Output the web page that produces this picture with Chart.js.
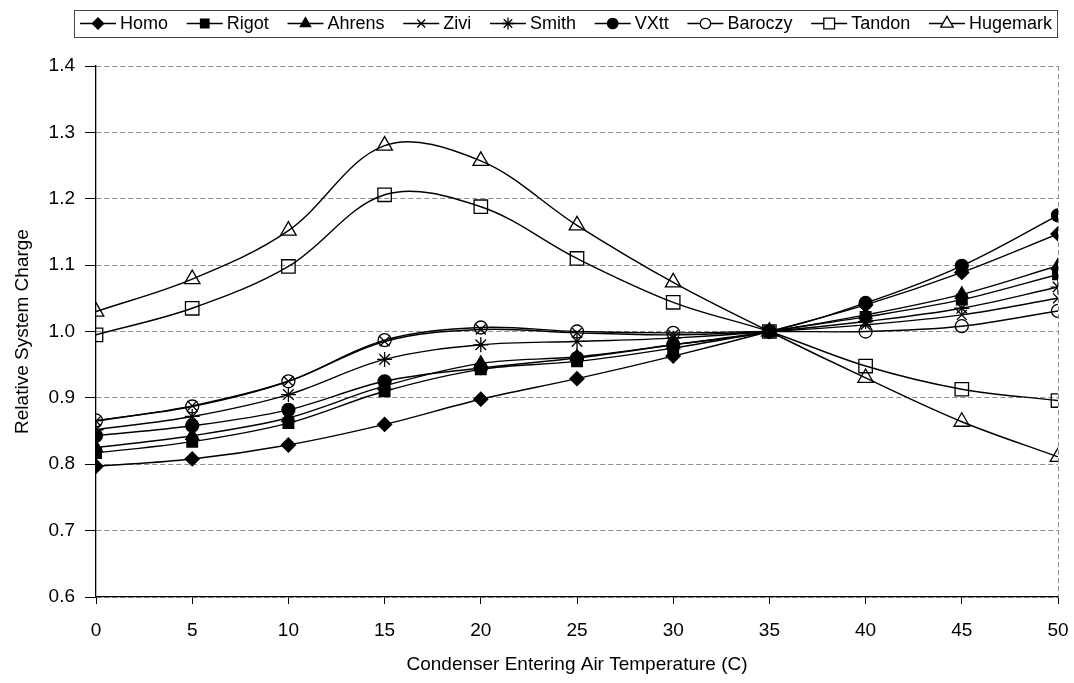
<!DOCTYPE html>
<html>
<head>
<meta charset="utf-8">
<title>Relative System Charge</title>
<style>
  html, body { margin: 0; padding: 0; background: #ffffff; }
  #chart { display: block; }
</style>
<script src="https://cdn.jsdelivr.net/npm/chart.js@4.4.1/dist/chart.umd.min.js"></script>
</head>
<body>
<canvas id="chart" width="1074" height="683"></canvas>
<script>
/*global document, window, Chart*/
/*jslint nomen: true, indent: 2 */
(function (window, document, Chart) {
  "use strict";

  /////////////////////////////////////////////////////////////////
  // data
  /////////////////////////////////////////////////////////////////
  var temperature_list = [0, 5, 10, 15, 20, 25, 30, 35, 40, 45, 50],
    y_tick_list = [0.6, 0.7, 0.8, 0.9, 1.0, 1.1, 1.2, 1.3, 1.4],
    homo_list = [0.797, 0.808, 0.829, 0.860, 0.898, 0.929, 0.963, 1.0, 1.040, 1.089, 1.147],
    rigot_list = [0.817, 0.834, 0.862, 0.910, 0.943, 0.955, 0.975, 1.0, 1.022, 1.048, 1.086],
    ahrens_list = [0.825, 0.843, 0.870, 0.918, 0.952, 0.962, 0.980, 1.0, 1.025, 1.056, 1.099],
    zivi_list = [0.865, 0.888, 0.925, 0.985, 1.003, 0.998, 0.995, 1.0, 1.010, 1.025, 1.050],
    smith_list = [0.852, 0.872, 0.905, 0.958, 0.980, 0.985, 0.990, 1.0, 1.015, 1.035, 1.067],
    vxtt_list = [0.843, 0.858, 0.882, 0.925, 0.945, 0.960, 0.980, 1.0, 1.043, 1.099, 1.175],
    baroczy_list = [0.866, 0.887, 0.925, 0.987, 1.006, 1.0, 0.998, 1.0, 1.0, 1.008, 1.031],
    tandon_list = [0.995, 1.035, 1.098, 1.206, 1.188, 1.110, 1.044, 1.0, 0.948, 0.913, 0.896],
    hugemark_list = [1.030, 1.079, 1.152, 1.280, 1.257, 1.160, 1.074, 1.0, 0.930, 0.864, 0.811],
    series_name_list = ["Homo", "Rigot", "Ahrens", "Zivi", "Smith", "VXtt",
      "Baroczy", "Tandon", "Hugemark"],
    series_value_list = [homo_list, rigot_list, ahrens_list, zivi_list, smith_list,
      vxtt_list, baroczy_list, tandon_list, hugemark_list],

    // marker look, one entry per series
    point_style_list = ["rectRot", "rect", "triangle", "crossRot", "star",
      "circle", "circle", "rect", "triangle"],
    point_radius_list = [7, 7.5, 7.5, 7, 7.5, 6.5, 6.5, 9.5, 9],
    point_filled_list = [true, true, true, true, true, true, false, false, false],

    font_family = "'Liberation Sans', Arial, Helvetica, sans-serif",
    helpers = Chart.helpers,
    dataset_list = [],
    i;

  for (i = 0; i < series_name_list.length; i += 1) {
    dataset_list.push({
      label: series_name_list[i],
      data: temperature_list.map(function (t, j) {
        return {x: t, y: series_value_list[i][j]};
      }),
      borderColor: "#000000",
      borderWidth: 1.4,
      tension: 0.35,
      fill: false,
      pointStyle: point_style_list[i],
      pointRadius: point_radius_list[i],
      pointBorderWidth: 1.3,
      pointBorderColor: "#000000",
      pointBackgroundColor: point_filled_list[i] ? "#000000" : "rgba(0,0,0,0)",
      // excel paints the last series on top
      order: series_name_list.length - i
    });
  }

  // dashed border on the right side of the plot area
  var plot_border_plugin = {
    id: "plot_border",
    beforeDatasetsDraw: function (chart) {
      var ctx = chart.ctx,
        area = chart.chartArea;
      ctx.save();
      ctx.strokeStyle = "#8c8c8c";
      ctx.lineWidth = 1;
      ctx.setLineDash([5, 3]);
      ctx.beginPath();
      ctx.moveTo(area.right + 0.5, area.top);
      ctx.lineTo(area.right + 0.5, area.bottom);
      ctx.stroke();
      ctx.restore();
    }
  };

  // excel style legend: line + marker + name, inside a thin box
  var line_legend_plugin = {
    id: "line_legend",
    afterDraw: function (chart) {
      var ctx = chart.ctx,
        box_left = 74,
        box_right = 1057,
        box_top = 10,
        box_bottom = 37,
        start_x = 80,
        end_x = 1052,
        line_len = 36,
        text_gap = 4,
        cy = (box_top + box_bottom) / 2,
        text_sum = 0,
        item_gap,
        x,
        k,
        ds;

      ctx.save();
      ctx.font = "18px " + font_family;
      for (k = 0; k < chart.data.datasets.length; k += 1) {
        text_sum += ctx.measureText(chart.data.datasets[k].label).width;
      }
      item_gap = (end_x - start_x - text_sum -
        chart.data.datasets.length * (line_len + text_gap)) /
        (chart.data.datasets.length - 1);

      ctx.fillStyle = "#ffffff";
      ctx.fillRect(box_left, box_top, box_right - box_left, box_bottom - box_top);
      ctx.strokeStyle = "#444444";
      ctx.lineWidth = 1;
      ctx.strokeRect(box_left + 0.5, box_top + 0.5, box_right - box_left, box_bottom - box_top);

      x = start_x;
      for (k = 0; k < chart.data.datasets.length; k += 1) {
        ds = chart.data.datasets[k];
        ctx.strokeStyle = "#000000";
        ctx.lineWidth = 1.4;
        ctx.beginPath();
        ctx.moveTo(x, cy);
        ctx.lineTo(x + line_len, cy);
        ctx.stroke();
        if (helpers && helpers.drawPoint) {
          ctx.fillStyle = ds.pointBackgroundColor;
          ctx.strokeStyle = "#000000";
          ctx.lineWidth = 1.3;
          if (ds.pointBackgroundColor !== "#000000") {
            ctx.fillStyle = "#ffffff";
          }
          helpers.drawPoint(ctx, {
            pointStyle: ds.pointStyle,
            radius: ds.pointRadius * 0.8,
            rotation: 0,
            borderWidth: 1.3
          }, x + line_len / 2, cy);
        }
        ctx.fillStyle = "#000000";
        ctx.textBaseline = "middle";
        ctx.textAlign = "left";
        ctx.fillText(ds.label, x + line_len + text_gap, cy + 1);
        x += line_len + text_gap + ctx.measureText(ds.label).width + item_gap;
      }
      ctx.restore();
    }
  };

  new Chart(document.getElementById("chart"), {
    type: "line",
    data: {
      datasets: dataset_list
    },
    plugins: [plot_border_plugin, line_legend_plugin],
    options: {
      responsive: false,
      animation: false,
      events: [],
      layout: {
        padding: {top: 66, right: 16, left: 0, bottom: 0}
      },
      plugins: {
        legend: {display: false},
        tooltip: {enabled: false}
      },
      scales: {
        x: {
          type: "linear",
          min: 0,
          max: 50,
          afterFit: function (scale) {
            scale.height = 86;
            // keep the plot edges where the picture has them
            scale.paddingLeft = 0;
            scale.paddingRight = 0;
          },
          afterBuildTicks: function (scale) {
            scale.ticks = temperature_list.map(function (v) {
              return {value: v};
            });
          },
          grid: {
            drawOnChartArea: false,
            drawTicks: true,
            tickLength: 7,
            tickColor: "#000000"
          },
          border: {display: true, color: "#000000", width: 1.3},
          ticks: {
            color: "#000000",
            padding: 15,
            maxRotation: 0,
            font: {family: font_family, size: 19}
          },
          title: {
            display: true,
            text: "Condenser Entering Air Temperature (C)",
            color: "#000000",
            padding: {top: 0, bottom: 7},
            font: {family: font_family, size: 19}
          }
        },
        y: {
          type: "linear",
          min: 0.6,
          max: 1.4,
          afterFit: function (scale) {
            scale.width = 96;
          },
          afterBuildTicks: function (scale) {
            scale.ticks = y_tick_list.map(function (v) {
              return {value: v};
            });
          },
          grid: {
            color: "#8c8c8c",
            lineWidth: 1,
            drawTicks: true,
            tickLength: 11,
            tickColor: "#000000",
            tickBorderDash: []
          },
          border: {display: true, color: "#000000", width: 1.3, dash: [5, 3]},
          ticks: {
            color: "#000000",
            padding: 10,
            font: {family: font_family, size: 19},
            callback: function (value) {
              return Number(value).toFixed(1);
            }
          },
          title: {
            display: true,
            text: "Relative System Charge",
            color: "#000000",
            padding: {top: 11, bottom: 0},
            font: {family: font_family, size: 19}
          }
        }
      }
    }
  });

}(window, document, Chart));
</script>
</body>
</html>
